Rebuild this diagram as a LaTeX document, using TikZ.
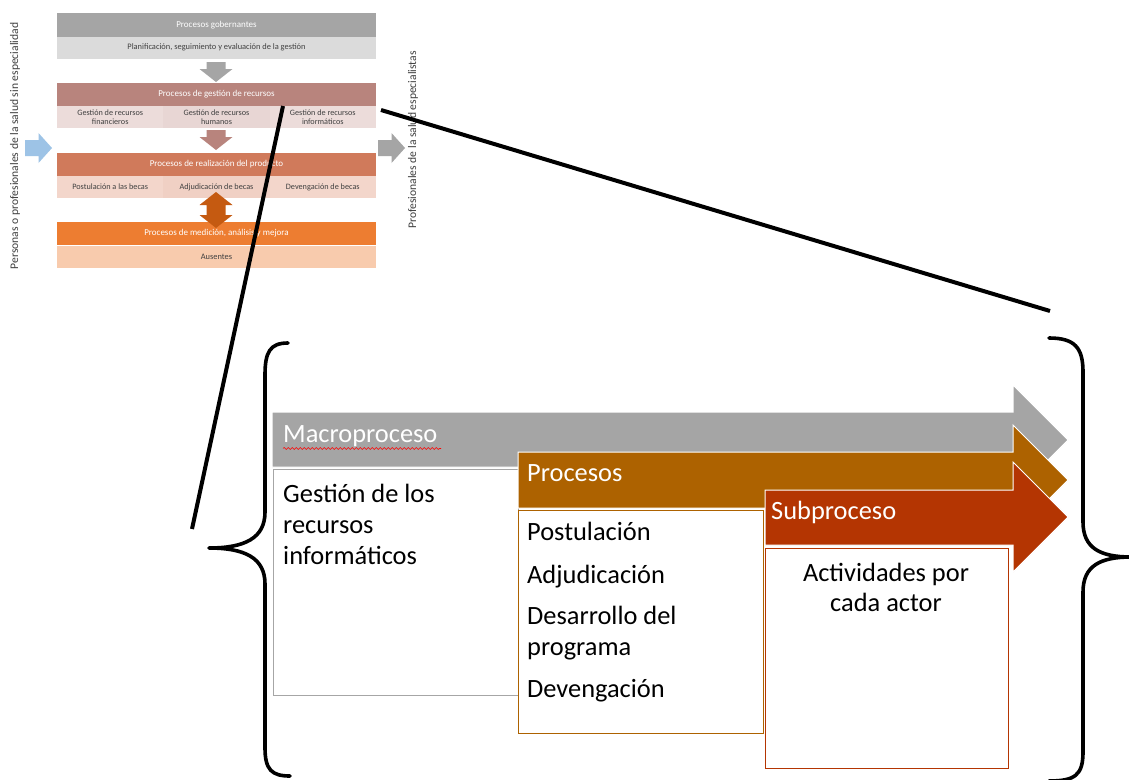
\documentclass[tikz,border=0pt]{standalone}
\usepackage{fontspec}
\setmainfont{Carlito}
\usetikzlibrary{decorations.pathmorphing}
\definecolor{cGrey}{HTML}{A5A5A5}
\definecolor{cGreyL}{HTML}{DBDBDB}
\definecolor{cRose}{HTML}{B8847D}
\definecolor{cRoseL}{HTML}{ECDCDA}
\definecolor{cRoseM}{HTML}{E8D6D4}
\definecolor{cReal}{HTML}{D07A5B}
\definecolor{cRealL}{HTML}{F3D6CB}
\definecolor{cRealM}{HTML}{F0D0C4}
\definecolor{cDbl}{HTML}{C55A11}
\definecolor{cMed}{HTML}{ED7D31}
\definecolor{cMedL}{HTML}{F8CBAD}
\definecolor{cBlue}{HTML}{9DC3E6}
\definecolor{cBrown}{HTML}{AD6200}
\definecolor{cRed}{HTML}{B43502}
\definecolor{cBoxGrey}{HTML}{A6A6A6}
\definecolor{cTxt}{HTML}{404040}
\begin{document}
\begin{tikzpicture}[x=1pt,y=-1pt,
  bar/.style={inner sep=0pt, minimum width=319pt, text=white, font=\fontsize{9}{10}\selectfont},
  subcell/.style={inner sep=0pt, minimum width=106.3pt, minimum height=22pt, text=cTxt, align=center, font=\fontsize{8.2}{8.6}\selectfont},
  subrow/.style={inner sep=0pt, minimum width=319pt, minimum height=22pt, text=cTxt, font=\fontsize{8.4}{9}\selectfont},
  side/.style={text=cTxt, font=\fontsize{11.6}{12}\selectfont, rotate=90, inner sep=0pt},
  big/.style={font=\fontsize{26.4}{31}\selectfont, inner sep=0pt},
  blk/.style={line width=4pt, black},
  brace/.style={line width=3.6pt, black, line join=round, line cap=round},
  bigarrow/.style={draw=white, line width=1pt},
  downarr/.pic={\fill[pic actions] (-9.5,-10) -- (9.5,-10) -- (9.5,-3) -- (16.5,-3) -- (0,10) -- (-16.5,-3) -- (-9.5,-3) -- cycle;},
  rightarr/.pic={\fill[pic actions] (-13.5,-8) -- (0,-8) -- (0,-15) -- (13.5,0) -- (0,15) -- (0,8) -- (-13.5,8) -- cycle;}
]
\useasboundingbox (0,0) rectangle (1129,779);
\fill[white] (0,0) rectangle (1129,779);

% ---------- small overview diagram ----------
\node[bar, fill=cGrey, minimum height=24pt] (gob) at (216.5,25) {Procesos gobernantes};
\node[subrow, fill=cGreyL, minimum height=22pt] (plan) at (216.5,47.5) {Planificación, seguimiento y evaluación de la gestión};
\pic[fill=cGrey] at (216,72) {downarr};

\node[bar, fill=cRose, minimum height=23pt] (ges) at (216.5,94.5) {Procesos de gestión de recursos};
\node[subcell, fill=cRoseL] (gfin) at (110.2,117) {Gestión de recursos\\financieros};
\node[subcell, fill=cRoseM] (ghum) at (216.5,117) {Gestión de recursos\\humanos};
\node[subcell, fill=cRoseL] (ginf) at (322.8,117) {Gestión de recursos\\informáticos};
\pic[fill=cRose] at (216,140) {downarr};

\node[bar, fill=cReal, minimum height=23pt] (real) at (216.5,164.5) {Procesos de realización del producto};
\node[subcell, fill=cRealL] (post) at (110.2,187) {Postulación a las becas};
\node[subcell, fill=cRealM] (adj) at (216.5,187) {Adjudicación de becas};
\node[subcell, fill=cRealL] (dev) at (322.8,187) {Devengación de becas};

\node[bar, fill=cMed, minimum height=23pt] (med) at (216.5,233.5) {Procesos de medición, análisis y mejora};
\node[subrow, fill=cMedL] (aus) at (216.5,256.5) {Ausentes};

\fill[cDbl] (216,192) -- (232.5,205) -- (225.5,205) -- (225.5,215) -- (232.5,215) -- (216,228)
  -- (199.5,215) -- (206.5,215) -- (206.5,205) -- (199.5,205) -- cycle;

\pic[fill=cBlue] at (38.5,148) {rightarr};
\pic[fill=cGrey] at (391.5,148) {rightarr};

\node[side] (left) at (15,146) {Personas o profesionales de la salud sin especialidad};
\node[side] (right) at (413,140) {Profesionales de la salud especialistas};

% ---------- zoom lines ----------
\coordinate (l1a) at (283,106);
\coordinate (l1b) at (192,529);
\coordinate (l2a) at (381,110);
\coordinate (l2b) at (1050,311);
\draw[blk] (l1a) -- (l1b);
\draw[blk] (l2a) -- (l2b);

% ---------- braces ----------
\draw[brace] (288,343) .. controls (270,343) and (265,352) .. (265,375)
  -- (265,512) .. controls (265,538) and (245,548) .. (209,548)
  .. controls (245,548) and (265,558) .. (265,584)
  -- (265,748) .. controls (265,770) and (272,776) .. (290,776);
\draw[brace] (1049,338) .. controls (1075,338) and (1083,348) .. (1083,372)
  -- (1083,522) .. controls (1083,548) and (1100,557) .. (1131,557)
  .. controls (1100,557) and (1083,566) .. (1083,592)
  -- (1083,752) .. controls (1083,775) and (1075,781) .. (1049,781);

% ---------- big arrows and boxes ----------
\path[bigarrow, fill=cGrey] (272,412) -- (1013,412) -- (1013,385) -- (1068,440) -- (1013,495) -- (1013,467) -- (272,467) -- cycle;
\node[big, text=white, anchor=base west] (macro) at (283,442) {Macroproceso};
\draw[red, line width=0.6pt, decorate, decoration={snake, amplitude=1pt, segment length=4pt}] (macro.south west) ++(0,2) -- ++(158,0);

\node[draw=cBoxGrey, line width=1pt, minimum width=245pt, minimum height=226pt, inner sep=0pt] (box1) at (395.5,582) {};
\node[big, anchor=base west] (t1a) at (283,502) {Gestión de los};
\node[big, anchor=base west] (t1b) at (283,533) {recursos};
\node[big, anchor=base west] (t1c) at (283,564) {informáticos};

\path[bigarrow, fill=cBrown] (518,452) -- (1013,452) -- (1013,425) -- (1068,480) -- (1013,535) -- (1013,508) -- (518,508) -- cycle;
\node[big, text=white, anchor=base west] (proc) at (527,481) {Procesos};

\node[draw=cBrown, line width=1pt, minimum width=245pt, minimum height=223pt, inner sep=0pt, fill=white] (box2) at (640.5,621.5) {};
\node[big, anchor=base west] (t2a) at (527,540) {Postulación};
\node[big, anchor=base west] (t2b) at (527,583) {Adjudicación};
\node[big, anchor=base west] (t2c) at (527,624) {Desarrollo del};
\node[big, anchor=base west] (t2d) at (527,655) {programa};
\node[big, anchor=base west] (t2e) at (527,697) {Devengación};

\path[bigarrow, fill=cRed] (765,490) -- (1013,490) -- (1013,462) -- (1068,517) -- (1013,572) -- (1013,545) -- (765,545) -- cycle;
\node[big, text=white, anchor=base west] (sub) at (771,519) {Subproceso};

\node[draw=cRed, line width=1pt, minimum width=243pt, minimum height=220pt, inner sep=0pt, fill=white] (box3) at (886.5,658) {};
\node[big, anchor=base] (t3a) at (886,581) {Actividades por};
\node[big, anchor=base] (t3b) at (886,611) {cada actor};
\end{tikzpicture}
\end{document}
